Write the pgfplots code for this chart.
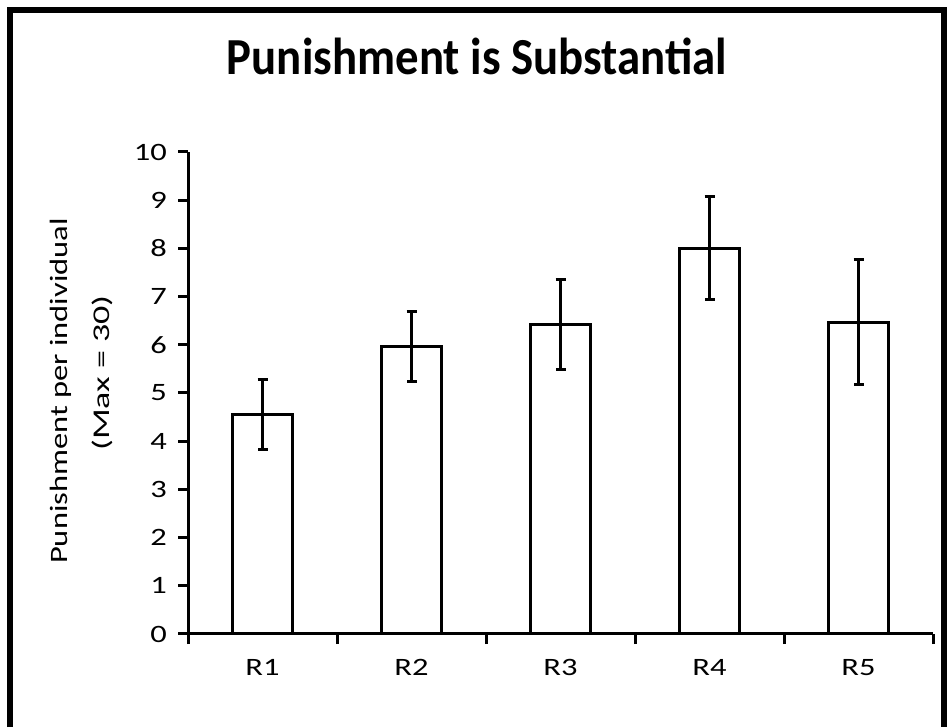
\documentclass[border=0pt]{standalone}
\usepackage{pgfplots}
\pgfplotsset{compat=1.18}
\usepackage{fontspec}
\setmainfont{Carlito}
\newfontfamily\widefont[FakeStretch=1.3]{Carlito}
\newfontfamily\widerfont[FakeStretch=1.5]{Carlito}
\newfontfamily\titlefont[FakeStretch=0.9]{Carlito}

\pgfplotstableread{
x  y     err
1  4.55  0.72
2  5.97  0.73
3  6.42  0.93
4  8.00  1.07
5  6.47  1.30
}\punish

\begin{document}
\begin{tikzpicture}
% canvas: 951 x 727 px at 0.5pt per px
\useasboundingbox (0,0) rectangle (475.5pt,363.5pt);
\draw[line width=3pt] (5pt,0pt) -- (5pt,358.5pt) -- (472pt,358.5pt) -- (472pt,0pt);
\node[anchor=base, font=\titlefont\fontsize{26}{30}\selectfont\bfseries] at (238.5pt,326pt) {Punishment is Substantial};
\node[rotate=90, font=\widefont\fontsize{12.5}{15}\selectfont] at (30.5pt,168pt) {Punishment per individual};
\node[rotate=90, font=\widerfont\fontsize{12}{14}\selectfont] at (51pt,177pt) {(Max = 30)};

\begin{axis}[
    at={(94pt,46.5pt)}, anchor=origin,
    scale only axis,
    width=372.5pt, height=241pt,
    xmin=0.5, xmax=5.5,
    ymin=0, ymax=10,
    axis x line*=bottom,
    axis y line*=left,
    axis line style={line width=1.5pt,-},
    tick style={line width=1.5pt,black},
    tick align=outside,
    major tick length=5pt,
    xtick={0.5,1.5,...,5.5},
    x tick label as interval,
    xticklabels={R1,R2,R3,R4,R5},
    xticklabel style={yshift=-4pt},
    ytick={0,1,...,10},
    yticklabel style={xshift=-2pt},
    ticklabel style={font=\widefont\fontsize{12.5}{14}\selectfont},
    /pgf/number format/assume math mode=true,
    clip=false,
]
\addplot[ybar, bar width=0.4, draw=black, fill=white, line width=1.5pt,
    error bars/.cd, y dir=both, y explicit,
    error bar style={line width=1.5pt, black},
    error mark options={rotate=90, mark size=2.5pt, line width=1.5pt, black}]
    table[x=x, y=y, y error=err] {\punish};
\end{axis}
\end{tikzpicture}
\end{document}
